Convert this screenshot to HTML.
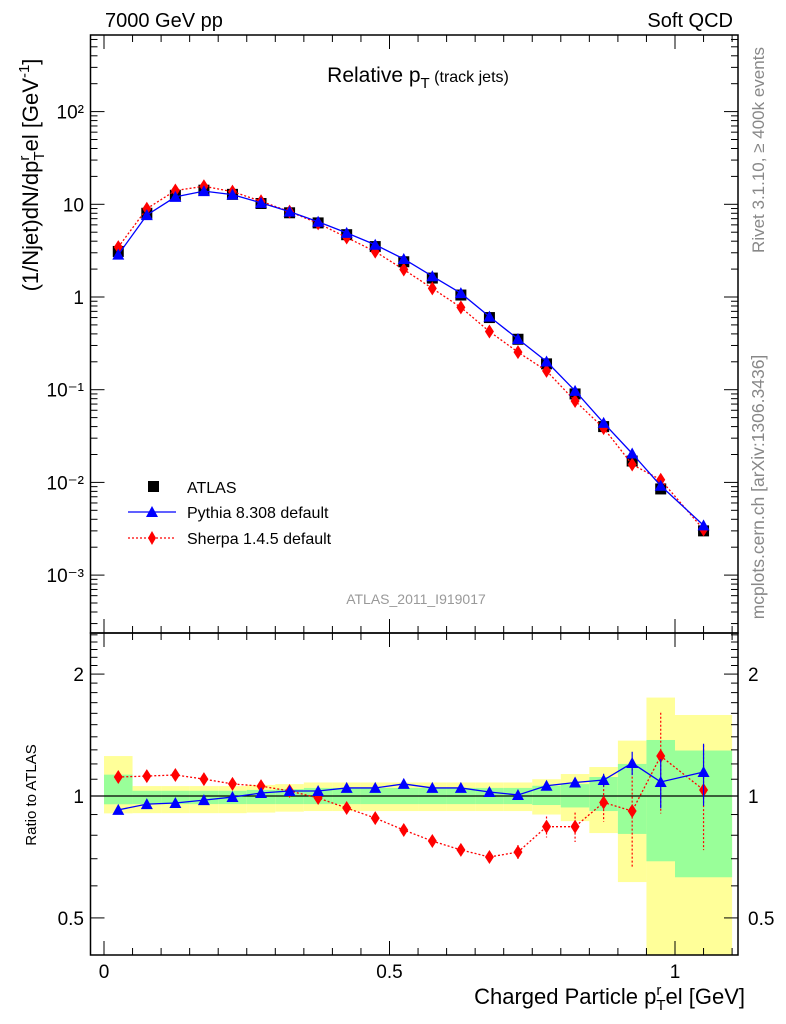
<!DOCTYPE html>
<html><head><meta charset="utf-8">
<style>
body{margin:0;background:#fff;}
svg{display:block;font-family:"Liberation Sans",sans-serif;}
</style></head>
<body>
<svg id="chart" width="786" height="1024" viewBox="0 0 786 1024" xmlns="http://www.w3.org/2000/svg">
<g id="bands"></g>
<g id="grid"></g>
<g id="marks"></g>
<text x="105" y="27" font-size="20">7000 GeV pp</text>
<text x="733" y="27" font-size="20" text-anchor="end">Soft QCD</text>
<text x="418" y="82" font-size="21" text-anchor="middle">Relative p<tspan font-size="15" dy="6">T</tspan><tspan font-size="16" dy="-6"> (track jets)</tspan></text>
<text transform="translate(38,175) rotate(-90)" font-size="22" text-anchor="middle">(1/Njet)dN/dp<tspan font-size="15" dy="-9">r</tspan><tspan font-size="15" dy="15" dx="-5">T</tspan><tspan dy="-6">el [GeV</tspan><tspan font-size="15" dy="-9">-1</tspan><tspan dy="9">]</tspan></text>
<text transform="translate(764,150) rotate(-90)" font-size="17" fill="#888" text-anchor="middle">Rivet 3.1.10, ≥ 400k events</text>
<text transform="translate(764,487) rotate(-90)" font-size="17.5" fill="#888" text-anchor="middle">mcplots.cern.ch [arXiv:1306.3436]</text>
<text x="416" y="604" font-size="14" fill="#999" text-anchor="middle">ATLAS_2011_I919017</text>
<text transform="translate(36,795) rotate(-90)" font-size="15" text-anchor="middle">Ratio to ATLAS</text>
<text x="745" y="1004" font-size="22" text-anchor="end">Charged Particle p<tspan font-size="15" dy="-9">r</tspan><tspan font-size="15" dy="15" dx="-5">T</tspan><tspan dy="-6">el [GeV]</tspan></text>
<g>
<rect x="148" y="481" width="11" height="11" fill="#000"/>
<text x="187" y="493" font-size="16">ATLAS</text>
<line x1="128" y1="512" x2="176" y2="512" stroke="#00f" stroke-width="1.3"/>
<path d="M146,517 L158,517 L152,506 Z" fill="#00f"/>
<text x="187" y="518" font-size="16">Pythia 8.308 default</text>
<line x1="128" y1="538" x2="176" y2="538" stroke="#f00" stroke-width="1.3" stroke-dasharray="2,2"/>
<path d="M152,531 L156,538 L152,545 L148,538 Z" fill="#f00"/>
<text x="187" y="544" font-size="16">Sherpa 1.4.5 default</text>
</g>
</svg>
<script>
const binLo = [0,0.05,0.1,0.15,0.2,0.25,0.3,0.35,0.4,0.45,0.5,0.55,0.6,0.65,0.7,0.75,0.8,0.85,0.9,0.95,1.0];
const binHi = [0.05,0.1,0.15,0.2,0.25,0.3,0.35,0.4,0.45,0.5,0.55,0.6,0.65,0.7,0.75,0.8,0.85,0.9,0.95,1.0,1.1];
const atlas = [3.1,8.0,12.5,14.2,12.8,10.2,8.1,6.3,4.7,3.5,2.4,1.6,1.05,0.6,0.35,0.19,0.09,0.04,0.017,0.0085,0.003];
const pythiaRatio = [0.924,0.955,0.961,0.977,0.994,1.017,1.029,1.029,1.047,1.047,1.071,1.047,1.047,1.023,1.006,1.06,1.08,1.095,1.206,1.083,1.146];
const sherpaRatio = [1.114,1.12,1.127,1.101,1.071,1.058,1.029,0.989,0.934,0.882,0.824,0.774,0.736,0.707,0.727,0.84,0.84,0.964,0.918,1.255,1.035];
const pythiaErr = [0,0,0,0,0,0,0,0,0,0,0,0,0,0,0,0.01,0.02,0.04,0.08,0.15,0.2];
const sherpaErr = [0,0,0,0,0,0,0,0,0,0,0,0.01,0.015,0.02,0.03,0.05,0.07,0.1,0.25,0.35,0.3];
const statLo = [0.954,0.955,0.955,0.955,0.955,0.955,0.955,0.955,0.955,0.955,0.955,0.955,0.955,0.955,0.955,0.95,0.937,0.918,0.806,0.69,0.63];
const statHi = [1.129,1.03,1.03,1.03,1.03,1.035,1.04,1.047,1.047,1.047,1.047,1.047,1.047,1.047,1.047,1.06,1.07,1.114,1.2,1.375,1.295];
const totLo = [0.906,0.907,0.907,0.907,0.907,0.91,0.915,0.918,0.918,0.918,0.918,0.918,0.918,0.918,0.918,0.9,0.867,0.81,0.613,0.3,0.3];
const totHi = [1.255,1.058,1.058,1.058,1.058,1.065,1.07,1.08,1.08,1.08,1.08,1.08,1.08,1.08,1.08,1.1,1.133,1.179,1.37,1.75,1.585];
const xTicks = ['0','0.5','1'];
const mainTicks = ['10⁻³','10⁻²','10⁻¹','1','10','10²'];
const ratioTicks = ['0.5','1','2'];

const NS='http://www.w3.org/2000/svg';
const L=90.5,R=738,T1=35,B1=633,B2=955;
const X=v=>104+571*v;
const Y=v=>297-92.7*Math.log10(v);
const YR=v=>796-405*Math.log10(v);
function mk(tag,attrs,parent){const e=document.createElementNS(NS,tag);for(const k in attrs)e.setAttribute(k,attrs[k]);document.getElementById(parent).appendChild(e);return e;}
const clampR=v=>Math.min(B2,Math.max(T1,YR(v)));

for(let i=0;i<binLo.length;i++){
  let r=mk('rect',{x:X(binLo[i]),width:X(binHi[i])-X(binLo[i]),y:clampR(totHi[i]),height:clampR(totLo[i])-clampR(totHi[i]),fill:'#ffff99'},'bands');
  
  
  let g=mk('rect',{x:X(binLo[i]),width:X(binHi[i])-X(binLo[i]),y:clampR(statHi[i]),height:clampR(statLo[i])-clampR(statHi[i]),fill:'#99ff99'},'bands');
  
  
}
let f1=mk('rect',{x:L,y:T1,width:R-L,height:B1-T1,fill:'none',stroke:'#000','stroke-width':1.5},'grid');


let f2=mk('rect',{x:L,y:B1,width:R-L,height:B2-B1,fill:'none',stroke:'#000','stroke-width':1.5},'grid');


let ref=mk('line',{x1:L,x2:R,y1:YR(1),y2:YR(1),stroke:'#000','stroke-width':1.2},'grid');


for(let k=0;k<=22;k++){
  const v=k*0.05,x=X(v);if(x>R)break;
  const len=(k%10==0)?14:7;
  [[T1,T1+len],[B1,B1-len],[B1,B1+len],[B2,B2-len]].forEach(p=>{let t=mk('line',{x1:x,x2:x,y1:p[0],y2:p[1],stroke:'#000','stroke-width':1},'grid');});
}
xTicks.forEach((s,i)=>{let t=mk('text',{x:X(i*0.5),y:978,'font-size':19,'text-anchor':'middle'},'grid');t.textContent=s;});
for(let d=-4;d<=2;d++){for(let m=1;m<10;m++){const v=m*Math.pow(10,d),y=Y(v);if(y<T1||y>B1)continue;const len=m==1?14:7;
  [[L,L+len],[R,R-len]].forEach(p=>{let t=mk('line',{x1:p[0],x2:p[1],y1:y,y2:y,stroke:'#000','stroke-width':1},'grid');});}}
mainTicks.forEach((s,i)=>{let t=mk('text',{x:84,y:Y(Math.pow(10,i-3))+7,'font-size':19,'text-anchor':'end'},'grid');t.textContent=s;});
for(let v=0.4;v<=2.55;v+=0.1){const y=YR(v);if(y<B1||y>B2)continue;const maj=Math.abs(v-0.5)<1e-6||Math.abs(v-1)<1e-6||Math.abs(v-2)<1e-6;const len=maj?14:7;
  [[L,L+len],[R,R-len]].forEach(p=>{let t=mk('line',{x1:p[0],x2:p[1],y1:y,y2:y,stroke:'#000','stroke-width':1},'grid');});}
[0.5,1,2].forEach((v,i)=>{[[84,'end'],[748,'start']].forEach(p=>{let t=mk('text',{x:p[0],y:YR(v)+7,'font-size':19,'text-anchor':p[1]},'grid');t.textContent=ratioTicks[i];});});

const cx=i=>X((binLo[i]+binHi[i])/2);
const pythia=atlas.map((a,i)=>a*pythiaRatio[i]);
const sherpa=atlas.map((a,i)=>a*sherpaRatio[i]);
atlas.forEach((a,i)=>{let r=mk('rect',{x:cx(i)-5.5,y:Y(a)-5.5,width:11,height:11,fill:'#000'},'marks');});
function series(vals,yf,color,dash,shape,name,errs){
  let p=mk('polyline',{points:vals.map((v,i)=>cx(i)+','+yf(v)).join(' '),fill:'none',stroke:color,'stroke-width':1.3},'marks');
  if(dash)p.setAttribute('stroke-dasharray','2,2');
  
  
  vals.forEach((v,i)=>{
    const x=cx(i),y=yf(v);
    if(errs&&errs[i]>0){let e=mk('line',{x1:x,x2:x,y1:yf(v+errs[i]),y2:yf(Math.max(0.05,v-errs[i])),stroke:color,'stroke-width':1.2},'marks');if(dash)e.setAttribute('stroke-dasharray','2,2');}
    let d=shape=='tri'?`M${x-6},${y+5} L${x+6},${y+5} L${x},${y-6} Z`:`M${x},${y-7} L${x+4.5},${y} L${x},${y+7} L${x-4.5},${y} Z`;
    let m=mk('path',{d:d,fill:color},'marks');
    
    
  });
}
series(sherpa,Y,'#f00',true,'dia','sherpa-main',null);
series(pythia,Y,'#00f',false,'tri','pythia-main',null);
series(sherpaRatio,YR,'#f00',true,'dia','sherpa-ratio',sherpaErr);
series(pythiaRatio,YR,'#00f',false,'tri','pythia-ratio',pythiaErr);
</script>
</body></html>
